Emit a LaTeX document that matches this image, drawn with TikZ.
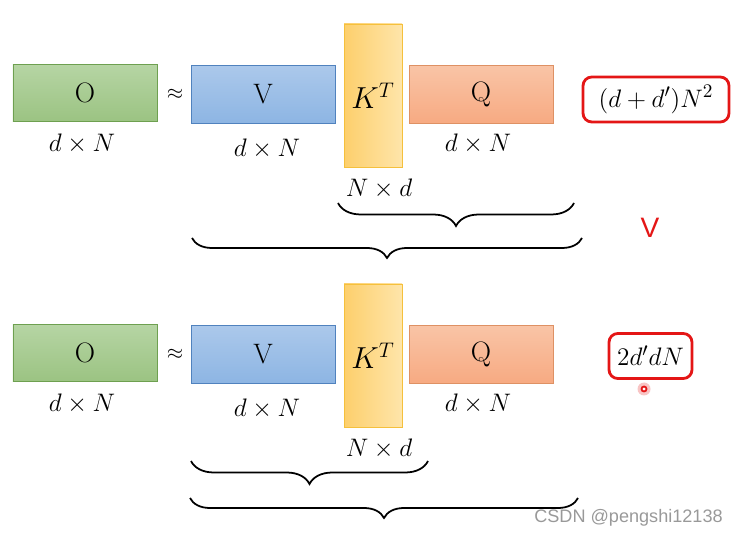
\documentclass[tikz,border=0pt]{standalone}
\usepackage{amsmath}
\usepackage{fontspec}
\usepackage{xcolor}
\usepackage{tikz}
\usetikzlibrary{
    positioning,
    decorations.pathreplacing
}
\newfontfamily\wmfont{Liberation Sans}
\definecolor{oGreenTop}{RGB}{182, 213, 164}
\definecolor{oGreenBot}{RGB}{155, 195, 130}
\definecolor{oGreenLine}{RGB}{110, 160, 80}
\definecolor{vBlueTop}{RGB}{171, 200, 235}
\definecolor{vBlueBot}{RGB}{141, 181, 227}
\definecolor{vBlueLine}{RGB}{80, 130, 190}
\definecolor{kYellowL}{RGB}{253, 207, 108}
\definecolor{kYellowR}{RGB}{254, 229, 170}
\definecolor{kYellowLine}{RGB}{245, 192, 60}
\definecolor{qOrangeTop}{RGB}{249, 196, 166}
\definecolor{qOrangeBot}{RGB}{247, 170, 130}
\definecolor{qOrangeLine}{RGB}{222, 145, 100}
\definecolor{costRed}{RGB}{228, 22, 22}

\begin{document}
\begin{tikzpicture}[scale=1,
        mat/.style={minimum width=2.88cm, minimum height=1.15cm, inner sep=0pt, font=\fontsize{16}{18}\selectfont},
        omat/.style={mat, draw=oGreenLine, top color=oGreenTop, bottom color=oGreenBot},
        vmat/.style={mat, draw=vBlueLine, top color=vBlueTop, bottom color=vBlueBot},
        qmat/.style={mat, draw=qOrangeLine, top color=qOrangeTop, bottom color=qOrangeBot},
        kmat/.style={mat, minimum width=1.16cm, minimum height=2.86cm, font=\fontsize{17}{19}\selectfont, draw=kYellowLine, left color=kYellowL, right color=kYellowR},
        dim/.style={font=\fontsize{14}{16}\selectfont},
        cost/.style={draw=costRed, line width=1.6pt, rounded corners=5pt, minimum height=0.9cm, inner xsep=2pt, font=\fontsize{15}{17}\selectfont},
        brc/.style={decorate, decoration={brace, amplitude=#1}, line width=1pt}
    ]
            \useasboundingbox (0,0) rectangle (14.7,10.74);

            % first order: V (K^T Q)
            \node[omat] (O1) at (1.70,8.88) {O};
            \node[font=\fontsize{13}{15}\selectfont] (ap1) at (3.50,8.86) {$\approx$};
            \node[vmat] (V1) at (5.26,8.85) {V};
            \node[kmat] (K1) at (7.46,8.83) {$K^T$};
            \node[qmat] (Q1) at (9.62,8.85) {Q};
            \node[cost, minimum width=2.92cm] (c1) at (13.12,8.75) {$(d+d')N^2$};

            \node[dim] (dO1) at (1.64,7.86) {$d\times N$};
            \node[dim] (dV1) at (5.34,7.76) {$d\times N$};
            \node[dim] (dQ1) at (9.56,7.86) {$d\times N$};
            \node[dim] (dK1) at (7.58,6.96) {$N\times d$};

            \coordinate (b1l) at (6.76,6.68);
            \coordinate (b1r) at (11.48,6.68);
            \coordinate (b2l) at (3.84,5.98);
            \coordinate (b2r) at (11.64,5.98);
            \draw[brc=0.46cm] (b1r) -- (b1l);
            \draw[brc=0.40cm] (b2r) -- (b2l);

            \node[text=costRed, font=\wmfont\fontsize{16}{18}\selectfont] (gt) at (13.00,6.18) {V};

            % second order: (V K^T) Q
            \node[omat] (O2) at (1.70,3.68) {O};
            \node[font=\fontsize{13}{15}\selectfont] (ap2) at (3.50,3.66) {$\approx$};
            \node[vmat] (V2) at (5.26,3.65) {V};
            \node[kmat] (K2) at (7.46,3.63) {$K^T$};
            \node[qmat] (Q2) at (9.62,3.65) {Q};
            \node[cost, minimum width=1.66cm] (c2) at (13.01,3.62) {$2d'dN$};

            \node[dim] (dO2) at (1.64,2.66) {$d\times N$};
            \node[dim] (dV2) at (5.34,2.56) {$d\times N$};
            \node[dim] (dQ2) at (9.56,2.66) {$d\times N$};
            \node[dim] (dK2) at (7.58,1.76) {$N\times d$};

            \coordinate (b3l) at (3.82,1.52);
            \coordinate (b3r) at (8.56,1.52);
            \coordinate (b4l) at (3.80,0.78);
            \coordinate (b4r) at (11.56,0.78);
            \draw[brc=0.46cm] (b3r) -- (b3l);
            \draw[brc=0.40cm] (b4r) -- (b4l);

            % pointer
            \fill[costRed!25] (12.88,2.96) circle (0.13);
            \draw[costRed, line width=1pt, fill=white] (12.88,2.96) circle (0.05);

            \node[text=black!40, font=\wmfont\fontsize{10.3}{12}\selectfont] (wm) at (12.57,0.38) {CSDN @pengshi12138};
        \end{tikzpicture}
\end{document}
